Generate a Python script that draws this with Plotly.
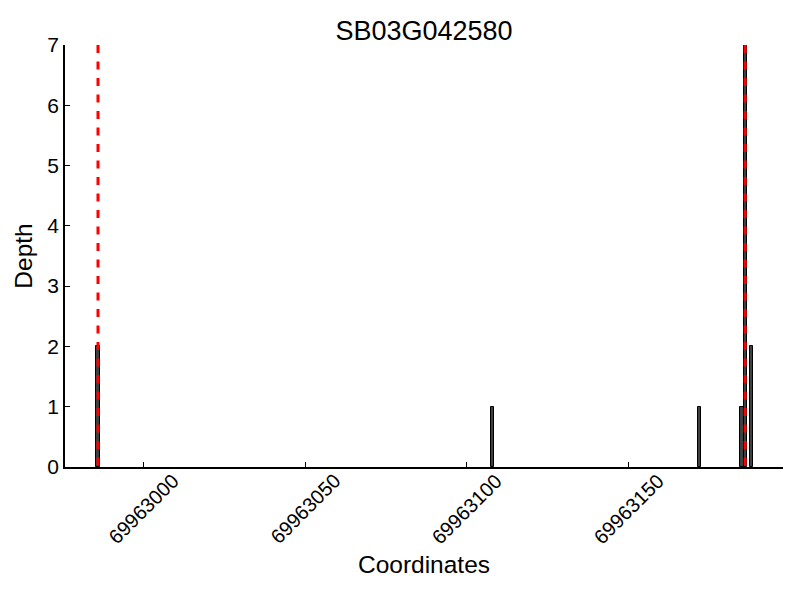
import plotly.graph_objects as go

# Data
title_text = "SB03G042580"
positions = [69962986, 69963108, 69963172, 69963185, 69963186, 69963188]
depths = [2, 1, 1, 1, 7, 2]
marker_lines = [69962986, 69963186]
x_ticks = [69963000, 69963050, 69963100, 69963150]
x_tick_labels = ["69963000", "69963050", "69963100", "69963150"]
y_ticks = [0, 1, 2, 3, 4, 5, 6, 7]
x_range = [69962975.8, 69963197.7]
y_range = [0, 7]

FONT = "Liberation Sans, Arial, sans-serif"

fig = go.Figure()
fig.add_trace(go.Bar(
    x=positions, y=depths, width=1,
    marker=dict(color="#404040", line=dict(color="black", width=1)),
    showlegend=False,
))
for v in marker_lines:
    fig.add_trace(go.Scatter(
        x=[v, v], y=[y_range[1], y_range[0]], mode="lines",
        line=dict(color="red", width=3, dash="8px,8.5px"),
        showlegend=False, hoverinfo="skip",
    ))

for tv, tl in zip(x_ticks, x_tick_labels):
    fig.add_annotation(
        x=tv, y=-0.099, xref="x", yref="paper", text=tl, showarrow=False,
        textangle=-45, xanchor="center", yanchor="middle",
        font=dict(family=FONT, size=20, color="black"),
    )

# page body has an 8px default margin, so margins are offset to compensate
fig.update_layout(
    width=800, height=600,
    margin=dict(l=57, r=25, t=37, b=140.5, autoexpand=False),
    plot_bgcolor="white", paper_bgcolor="white",
    title=dict(text=title_text, xref="paper", x=0.5, xanchor="center",
               yref="container", y=0.963, yanchor="middle",
               font=dict(family=FONT, size=27, color="black")),
    bargap=0,
)
fig.update_xaxes(
    range=x_range, tickvals=x_ticks, showticklabels=False, automargin=False,
    ticks="inside", ticklen=5, tickcolor="black", tickwidth=1,
    showline=True, linecolor="black", linewidth=1.5, showgrid=False, zeroline=False,
    title=dict(text="Coordinates", standoff=88, font=dict(family=FONT, size=24.5, color="black")),
)
fig.update_yaxes(
    range=y_range, tickvals=y_ticks, automargin=False,
    ticks="inside", ticklen=5, tickcolor="black", tickwidth=1,
    showline=True, linecolor="black", linewidth=1.5, showgrid=False, zeroline=False,
    tickfont=dict(family=FONT, size=21, color="black"),
    title=dict(text="Depth", standoff=8, font=dict(family=FONT, size=24.5, color="black")),
)

fig.write_html("out.html")
